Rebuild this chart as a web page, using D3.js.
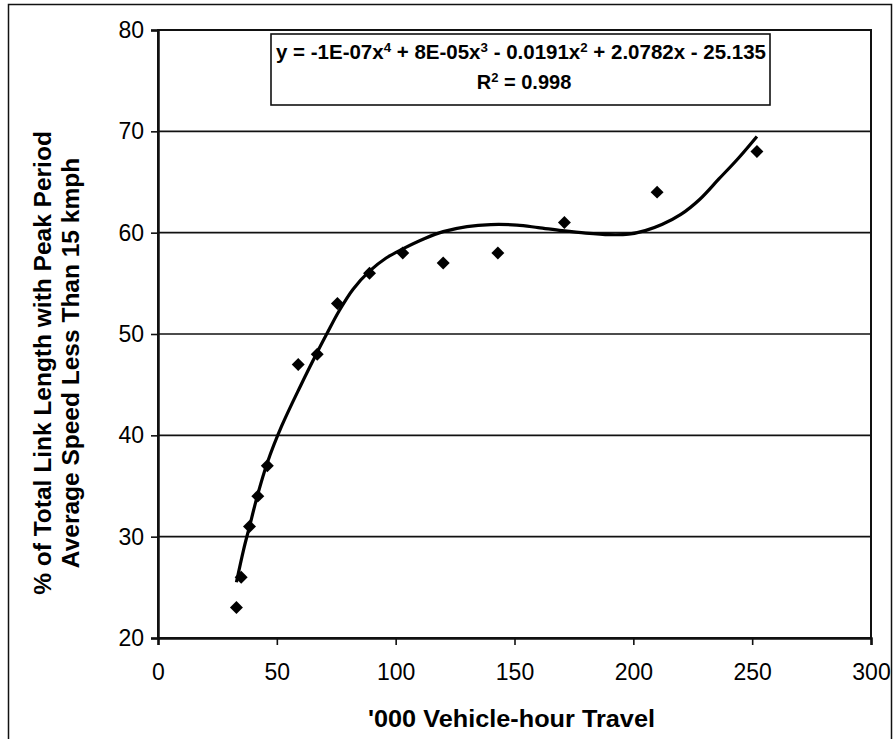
<!DOCTYPE html>
<html>
<head>
<meta charset="utf-8">
<script src="https://cdn.jsdelivr.net/npm/d3@7"></script>
<style>
  body { margin: 0; background: #fff; }
  text { font-family: "Liberation Sans", Arial, sans-serif; fill: #000; }
</style>
</head>
<body>
<script>
// observed points ('000 vehicle-hours vs % link length below 15 kmph)
const vehicleHours = [33, 35, 38.5, 42, 46, 59, 67, 75.5, 89, 103, 120, 143, 171, 210, 252];
const pctSlow      = [23, 26, 31, 34, 37, 47, 48, 53, 56, 58, 57, 58, 61, 64, 68];

// 4th order trendline
const trendX = [33, 36, 38.5, 42, 46, 52, 60, 67, 71, 76, 82, 89, 96, 103, 112, 120, 130, 140, 151, 160, 170, 180, 190, 198, 205, 212, 220, 228, 236, 244, 252];
const trendY = [25.5, 28.7, 31, 34.2, 37.3, 40.9, 44.9, 48.2, 50, 52.2, 54.4, 56.2, 57.5, 58.4, 59.4, 60.1, 60.6, 60.8, 60.75, 60.5, 60.2, 59.95, 59.8, 59.85, 60.2, 60.8, 61.8, 63.3, 65.3, 67.3, 69.5];

const xTicks = [0, 50, 100, 150, 200, 250, 300];
const yTicks = [20, 30, 40, 50, 60, 70, 80];

const xTitle = "'000 Vehicle-hour Travel";
const yTitle = ['% of Total Link Length with Peak Period', 'Average Speed Less Than 15 kmph'];

const W = 896, H = 739;
const plot = {left: 158, right: 871, top: 30, bottom: 638};

const svg = d3.select('body')
                .append('svg')
                  .attr('width', W)
                  .attr('height', H);

// chart frame
svg.append('rect')
    .attr('x', 8.5).attr('y', 4.5)
    .attr('width', 883).attr('height', 760)
    .attr('fill', 'none').attr('stroke', '#111').attr('stroke-width', 1.5);

const x = d3.scaleLinear().domain([0, 300]).range([plot.left, plot.right]);
const y = d3.scaleLinear().domain([20, 80]).range([plot.bottom, plot.top]);

// gridlines
svg.append('g').selectAll('line')
    .data(yTicks)
    .enter()
      .append('line')
        .attr('x1', plot.left).attr('x2', plot.right)
        .attr('y1', d => y(d)).attr('y2', d => y(d))
        .attr('stroke', '#111').attr('stroke-width', 1.6);

// plot border
svg.append('rect')
    .attr('x', plot.left).attr('y', plot.top)
    .attr('width', plot.right - plot.left).attr('height', plot.bottom - plot.top)
    .attr('fill', 'none').attr('stroke', '#111').attr('stroke-width', 2);

const yAxis = svg.append('g')
    .attr('transform', `translate(${plot.left},0)`)
    .call(d3.axisLeft(y).tickValues(yTicks).tickSize(7).tickPadding(7).tickFormat(d3.format('d')));
const xAxis = svg.append('g')
    .attr('transform', `translate(0,${plot.bottom})`)
    .call(d3.axisBottom(x).tickValues(xTicks).tickSize(7).tickPadding(19).tickFormat(d3.format('d')));

[xAxis, yAxis].forEach(g => {
    g.select('.domain').attr('stroke', '#111').attr('stroke-width', 2.5);
    g.selectAll('.tick line').attr('stroke', '#111').attr('stroke-width', 1.6);
    g.selectAll('.tick text')
        .attr('font-size', 23)
        .attr('font-family', '"Liberation Sans", Arial, sans-serif')
        .attr('fill', '#111');
});

// trendline
const line = d3.line()
    .x(d => x(d[0]))
    .y(d => y(d[1]))
    .curve(d3.curveCatmullRom.alpha(0.5));

svg.append('path')
    .datum(d3.zip(trendX, trendY))
    .attr('d', line)
    .attr('fill', 'none')
    .attr('stroke', '#000')
    .attr('stroke-width', 3.2)
    .attr('stroke-linejoin', 'round');

// data markers
svg.append('g').selectAll('path')
    .data(d3.zip(vehicleHours, pctSlow))
    .enter()
      .append('path')
        .attr('d', d3.symbol(d3.symbolSquare, 84))
        .attr('transform', d => `translate(${x(d[0])},${y(d[1])}) rotate(45)`)
        .attr('fill', '#000');

// equation box
svg.append('rect')
    .attr('x', 271).attr('y', 34)
    .attr('width', 499).attr('height', 71)
    .attr('fill', '#fff').attr('stroke', '#111').attr('stroke-width', 1.6);

function superText(sel, parts) {
    let shift = 0;
    parts.forEach(p => {
        const t = sel.append('tspan').text(p.text);
        if (p.sup) {
            t.attr('dy', -7).attr('font-size', 13);
            shift = 7;
        } else if (shift) {
            t.attr('dy', shift);
            shift = 0;
        }
    });
}

const eq = svg.append('text')
    .attr('x', 521).attr('y', 59)
    .attr('text-anchor', 'middle')
    .attr('font-size', 20).attr('font-weight', 'bold')
    .attr('textLength', 490).attr('lengthAdjust', 'spacingAndGlyphs');
superText(eq, [
    {text: 'y = -1E-07x'}, {text: '4', sup: true},
    {text: ' + 8E-05x'}, {text: '3', sup: true},
    {text: ' - 0.0191x'}, {text: '2', sup: true},
    {text: ' + 2.0782x - 25.135'}
]);

const r2 = svg.append('text')
    .attr('x', 524).attr('y', 89)
    .attr('text-anchor', 'middle')
    .attr('font-size', 20).attr('font-weight', 'bold');
superText(r2, [{text: 'R'}, {text: '2', sup: true}, {text: ' = 0.998'}]);

// axis titles
svg.append('text')
    .attr('x', (plot.left + plot.right) / 2 - 3).attr('y', 727)
    .attr('text-anchor', 'middle')
    .attr('font-size', 24).attr('font-weight', 'bold')
    .attr('textLength', 287).attr('lengthAdjust', 'spacingAndGlyphs')
    .text(xTitle);

svg.append('g').selectAll('text')
    .data(yTitle)
    .enter()
      .append('text')
        .attr('transform', (d, i) => `translate(${51 + i * 28},363) rotate(-90)`)
        .attr('text-anchor', 'middle')
        .attr('font-size', 24.5).attr('font-weight', 'bold')
        .text(d => d);
</script>
</body>
</html>
